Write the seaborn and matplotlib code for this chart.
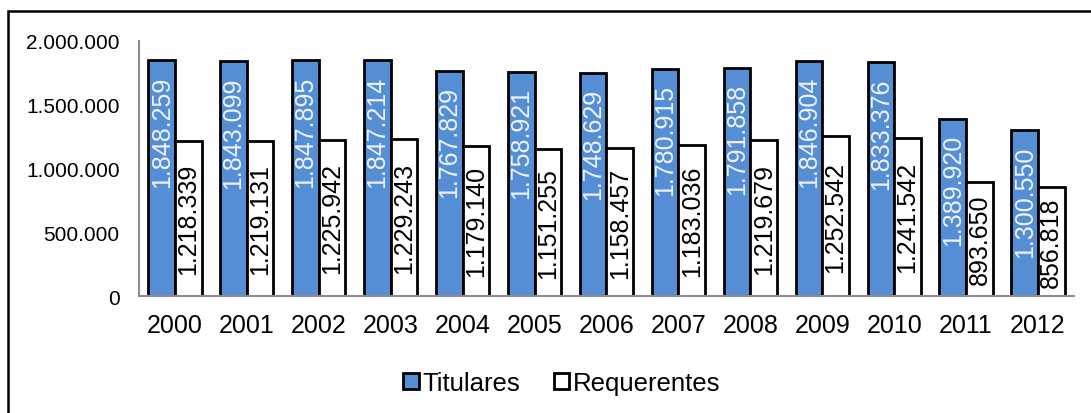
import numpy as np
import pandas as pd
import matplotlib
matplotlib.use("Agg")
import matplotlib.pyplot as plt
from matplotlib.patches import Patch, Rectangle
import seaborn as sns

anos = ["2000", "2001", "2002", "2003", "2004", "2005", "2006",
        "2007", "2008", "2009", "2010", "2011", "2012"]
titulares = [1848259, 1843099, 1847895, 1847214, 1767829, 1758921, 1748629,
             1780915, 1791858, 1846904, 1833376, 1389920, 1300550]
requerentes = [1218339, 1219131, 1225942, 1229243, 1179140, 1151255, 1158457,
               1183036, 1219679, 1252542, 1241542, 893650, 856818]
series = ["Titulares", "Requerentes"]
yticks = [0, 500000, 1000000, 1500000, 2000000]

azul = "#558ED5"


def fmt(v):
    return f"{v:,}".replace(",", ".")


df = pd.DataFrame({
    "ano": anos * 2,
    "valor": titulares + requerentes,
    "serie": [series[0]] * len(anos) + [series[1]] * len(anos),
})

sns.set_style("white")
plt.rcParams["font.family"] = ["Liberation Sans", "DejaVu Sans"]
plt.rcParams["text.color"] = "black"
plt.rcParams["xtick.color"] = "black"
plt.rcParams["ytick.color"] = "black"

fig = plt.figure(figsize=(10.91, 4.14), dpi=100)
ax = fig.add_axes([0.1274, 0.2826, 0.857, 0.616])

sns.barplot(data=df, x="ano", y="valor", hue="serie", hue_order=series,
            palette=[azul, "white"], saturation=1, width=0.74,
            edgecolor="black", linewidth=2, legend=False, ax=ax)

# labels: Titulares near the top, Requerentes centred
for bar, v in zip(ax.containers[0], titulares):
    ax.annotate(fmt(v), (bar.get_x() + bar.get_width() / 2, bar.get_height()),
                xytext=(0, -11), textcoords="offset points",
                ha="center", va="top", rotation=90, fontsize=18,
                color="#EEF4FC")
ax.bar_label(ax.containers[1], labels=[fmt(v) for v in requerentes],
             label_type="center", rotation=90, fontsize=18, color="black")

ax.set_ylim(0, 2000000)
ax.set_xlim(-0.5, len(anos) - 0.5)
ax.set_yticks(yticks)
ax.set_yticklabels([fmt(v) for v in yticks])
ax.tick_params(axis="y", length=0, pad=14, labelsize=15, labelcolor="black")
ax.tick_params(axis="x", length=0, pad=12, labelsize=18, labelcolor="black")
ax.set_xlabel("")
ax.set_ylabel("")

for s in ["top", "right"]:
    ax.spines[s].set_visible(False)
for s in ["left", "bottom"]:
    ax.spines[s].set_color("#8C8C8C")
    ax.spines[s].set_linewidth(1.5)

handles = [Patch(facecolor=azul, edgecolor="black", linewidth=2),
           Patch(facecolor="white", edgecolor="black", linewidth=2)]
leg = fig.legend(handles, series, loc="center", bbox_to_anchor=(0.515, 0.072),
                 ncol=2, frameon=False, fontsize=18.5, handlelength=0.6,
                 handleheight=0.6, handletextpad=0.15, columnspacing=1.3)
for t in leg.get_texts():
    t.set_color("black")

# outer border of the chart area
fig.patches.append(Rectangle((8 / 1091, -0.2), 1.2, 1.2 - 12 / 414,
                             transform=fig.transFigure, fill=False,
                             edgecolor="black", linewidth=1.8))

fig.savefig("out.png", dpi=100)
